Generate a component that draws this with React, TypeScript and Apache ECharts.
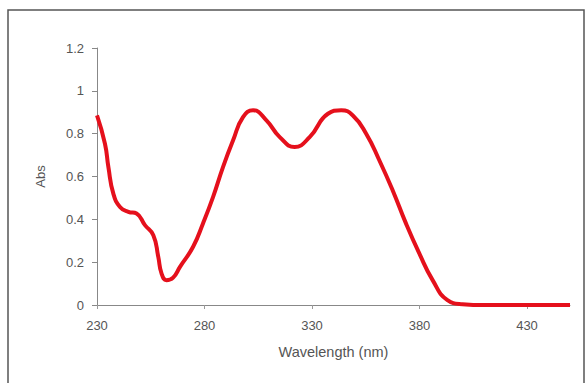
import React, { useEffect, useRef } from "react";
import * as echarts from "echarts";

const wavelengths = [230, 233.7, 235.3, 237.6, 240.7, 244.6, 248.4, 252.3, 256.2, 258.5, 260, 262.3, 265.4, 268.6, 274.7, 279.3, 284, 288.6, 293.3, 297.9, 302.6, 308.8, 315, 321.9, 328.9, 337.4, 343.6, 349, 355.2, 361.3, 367.5, 373.7, 379.9, 386.1, 393, 400, 410, 430, 450];
const absorbance = [0.885, 0.753, 0.644, 0.52, 0.458, 0.435, 0.427, 0.373, 0.326, 0.225, 0.148, 0.116, 0.128, 0.178, 0.272, 0.381, 0.505, 0.644, 0.769, 0.877, 0.909, 0.862, 0.784, 0.738, 0.784, 0.893, 0.909, 0.885, 0.8, 0.676, 0.536, 0.381, 0.241, 0.116, 0.023, 0.004, 0, 0, 0];
const xTicks = [230, 280, 330, 380, 430];

export default function App() {
  const ref = useRef<HTMLDivElement>(null);
  useEffect(() => {
    if (!ref.current) return;
    const chart = echarts.init(ref.current, null, { renderer: "svg" });
    const data = wavelengths.map((w, i) => [w, absorbance[i]]);
    const font = "Liberation Sans, Arial, sans-serif";
    const labelStyle = { color: "#555", fontSize: 13, fontFamily: font };
    chart.setOption({
      animation: false,
      backgroundColor: "#fff",
      graphic: [
        {
          type: "rect",
          shape: { x: 8, y: 10, width: 576, height: 420 },
          style: { fill: "none", stroke: "#555", lineWidth: 1.5 },
          silent: true,
        },
      ],
      grid: { left: 97, right: 17, top: 48, bottom: 78 },
      xAxis: {
        type: "value",
        min: 230,
        max: 450,
        name: "Wavelength (nm)",
        nameLocation: "middle",
        nameGap: 39,
        nameTextStyle: { color: "#555", fontSize: 14.5, fontFamily: font },
        axisLine: { lineStyle: { color: "#888", width: 1 } },
        axisTick: { show: true, length: 4, customValues: xTicks, lineStyle: { color: "#999" } },
        axisLabel: { ...labelStyle, margin: 14, customValues: xTicks },
        splitLine: { show: false },
      },
      yAxis: {
        type: "value",
        min: 0,
        max: 1.2,
        interval: 0.2,
        name: "Abs",
        nameLocation: "middle",
        nameGap: 50,
        nameRotate: 90,
        nameTextStyle: labelStyle,
        axisLine: { show: true, lineStyle: { color: "#888", width: 1 } },
        axisTick: { show: true, length: 5, lineStyle: { color: "#888" } },
        axisLabel: { ...labelStyle, margin: 13 },
        splitLine: { show: false },
      },
      series: [
        {
          type: "line",
          data,
          smooth: 0.5,
          showSymbol: false,
          lineStyle: { color: "#e5101c", width: 4 },
        },
      ],
    });
    return () => chart.dispose();
  }, []);
  return (
    <div
      ref={ref}
      style={{ position: "fixed", left: 0, top: 0, width: 587, height: 383, background: "#fff" }}
    />
  );
}
